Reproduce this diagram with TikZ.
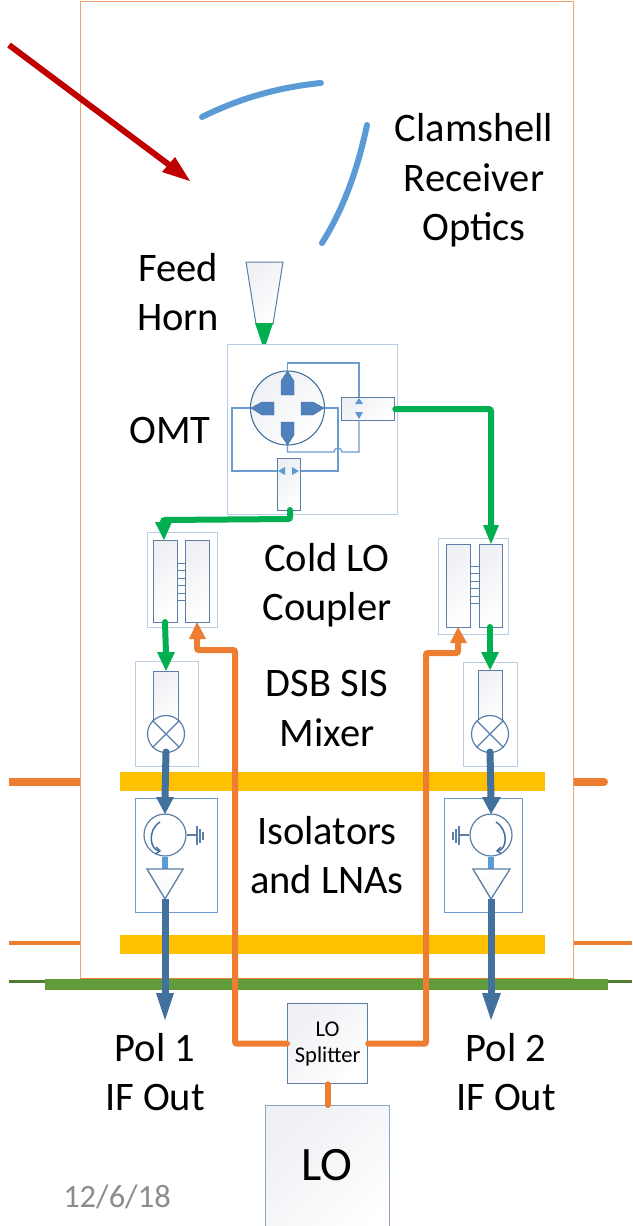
\documentclass[tikz,border=0pt]{standalone}
\usepackage{fontspec}
\setmainfont{Carlito}
\usetikzlibrary{arrows.meta,calc}
\definecolor{rfgreen}{HTML}{00B050}
\definecolor{lored}{HTML}{ED7D31}
\definecolor{ifblue}{HTML}{41719C}
\definecolor{lightblue}{HTML}{5B9BD5}
\definecolor{linkblue}{HTML}{6C9BD2}
\definecolor{edgeblue}{HTML}{5B7FA8}
\definecolor{paleedge}{HTML}{B8CCE4}
\definecolor{barygold}{HTML}{FFC000}
\definecolor{bargreen}{HTML}{629B3C}
\definecolor{darkgreen}{HTML}{507E32}
\definecolor{darkred}{HTML}{C00000}
\definecolor{shade}{HTML}{EEF0F4}
\definecolor{probe}{HTML}{4F81BD}
\tikzset{
 x=1pt,y=-1pt,
 lbl/.style={font=\fontsize{40.5}{49.5}\selectfont,align=center,text=black,inner sep=0pt},
 panel/.style={draw=paleedge,line width=1.3pt,fill=white},
 panelb/.style={draw=linkblue,line width=1.3pt,fill=white},
 part/.style={draw=edgeblue,line width=1.3pt,top color=shade,bottom color=white,shading angle=45},
 wire/.style={draw=linkblue,line width=1.2pt},
 rf/.style={draw=rfgreen,line width=6pt,line cap=round,rounded corners=2pt},
 lo/.style={draw=lored,line width=6pt,line cap=round,rounded corners=2pt},
 ifl/.style={draw=ifblue,line width=7pt,line cap=round},
 tipg/.style={fill=rfgreen},
 tipo/.style={fill=lored},
 tipb/.style={fill=ifblue},
 probeshape/.style={fill=probe,draw=ifblue,line width=.4pt},
 tri/.style={fill=lightblue},
 rung/.style={draw=edgeblue,line width=1pt},
 thinl/.style={draw=lored,line width=4pt},
 thickl/.style={draw=lored,line width=8pt},
}
\begin{document}
\begin{tikzpicture}
\useasboundingbox (0,0) rectangle (632,1226);
\fill[white] (0,0) rectangle (632,1226);
% background lines
\draw[thickl] (9,782) -- (80,782);
\draw[thickl,line cap=round] (574,782) -- (604,782);
\draw[thinl] (9,943) -- (80,943);
\draw[thinl] (574,943) -- (632,943);
\draw[draw=darkgreen,line width=3pt] (9,981.5) -- (632,981.5);
% dewar
\node[draw=lored!70!white,line width=1pt,fill=white,minimum width=493pt,minimum height=977pt,inner sep=0pt,anchor=north west] (dewar) at (80,1) {};
\fill[barygold] (120,772) rectangle (545,791);
\fill[barygold] (120,935) rectangle (545,954);
\fill[bargreen] (45,978.5) rectangle (608,990);
\draw[lored,line width=1pt] (80,978) -- (573,978);
% red beam
\coordinate (beamA) at (9,45);
\coordinate (beamB) at (176,170);
\draw[darkred,line width=6pt] (beamA) -- (beamB);
\fill[darkred] (190,181) -- (162,172) -- (175,157) -- cycle;
% mirrors
\draw[lightblue,line width=6pt,line cap=round] (202,117) .. controls (240,98) and (280,87) .. (321,83);
\draw[lightblue,line width=6pt,line cap=round] (322,243) .. controls (344,208) and (358,168) .. (367,125);
% labels
\node[lbl] (optics) at (474,180.5) {Clamshell\\Receiver\\Optics};
\node[lbl] (feedlbl) at (178,292) {Feed\\Horn};
\node[lbl] (omtlbl) at (170,430) {OMT};
\node[lbl] (couplbl) at (327,585) {Cold LO\\Coupler};
\node[lbl] (mixlbl) at (327,708.5) {DSB SIS\\Mixer};
\node[lbl] (isolbl) at (327,855) {Isolators\\and LNAs};
\node[lbl] (pol1) at (155,1072) {Pol 1\\IF Out};
\node[lbl] (pol2) at (506,1072) {Pol 2\\IF Out};
\node[font=\fontsize{32.5}{38}\selectfont,text=black!45,inner sep=0pt] (date) at (117,1197) {12/6/18};
% horn
\draw[part,line width=1pt] (246,262) -- (283,262) -- (273,324) -- (256,324) -- cycle;
\fill[tipg] (255,323) -- (273,323) -- (265,347) -- (263,347) -- cycle;
\draw[rf,line width=4.5pt] (264,332) -- (264,353);
% OMT
\node[panel,minimum width=170pt,minimum height=170pt,inner sep=0pt,anchor=north west] (omt) at (227,344) {};
\node[circle,draw=ifblue,line width=1.1pt,top color=shade,bottom color=white,shading angle=45,minimum size=74pt,inner sep=0pt] (orth) at (287.5,408) {};
\node[part,minimum width=53pt,minimum height=23pt,inner sep=0pt,anchor=north west] (hybR) at (341,397) {};
\node[part,minimum width=23pt,minimum height=52pt,inner sep=0pt,anchor=north west] (hybB) at (277,458) {};
\draw[wire] (orth.north) -- (287.5,363) -- (359,363) -- (359,397);
\draw[wire] (orth.south) -- (287.5,452) -- (334,452) arc[start angle=180,end angle=360,radius=4] -- (359,452) -- (359,420);
\draw[wire] (orth.west) -- (232,408) -- (232,471) -- (hybB.west |- 0,471);
\draw[wire] (orth.east) -- (338,408) -- (338,471) -- (hybB.east |- 0,471);
\draw[probeshape] (287.5,371) -- (294,381) -- (294,395) -- (281,395) -- (281,381) -- cycle;
\draw[probeshape] (287.5,445) -- (294,435) -- (294,422) -- (281,422) -- (281,435) -- cycle;
\draw[probeshape] (251,408) -- (262,402) -- (274,402) -- (274,415) -- (262,415) -- cycle;
\draw[probeshape] (324,408) -- (313,402) -- (301,402) -- (301,415) -- (313,415) -- cycle;
\fill[tri] (359,398) -- (355,404) -- (363,404) -- cycle;
\fill[tri] (359,419) -- (355,412) -- (363,412) -- cycle;
\fill[tri] (278,471) -- (285,467) -- (285,475) -- cycle;
\fill[tri] (299,471) -- (292,467) -- (292,475) -- cycle;
% couplers
\node[panel,minimum width=70pt,minimum height=95pt,inner sep=0pt,anchor=north west] (cplL) at (147,532) {};
\node[part,minimum width=24pt,minimum height=82pt,inner sep=0pt,anchor=north west] (cplLa) at (153,540) {};
\node[part,minimum width=24pt,minimum height=82pt,inner sep=0pt,anchor=north west] (cplLb) at (185,540) {};
\foreach \y in {563,570,578,585,593,600} \draw[rung] (177,\y) -- (185,\y);
\node[panel,minimum width=70pt,minimum height=96pt,inner sep=0pt,anchor=north west] (cplR) at (438,538) {};
\node[part,minimum width=24pt,minimum height=83pt,inner sep=0pt,anchor=north west] (cplRa) at (446,544) {};
\node[part,minimum width=23pt,minimum height=83pt,inner sep=0pt,anchor=north west] (cplRb) at (479,544) {};
\foreach \y in {566,573,581,588,596,603} \draw[rung] (470,\y) -- (479,\y);
% mixers
\node[panel,minimum width=63pt,minimum height=105pt,inner sep=0pt,anchor=north west] (mixL) at (135,661) {};
\node[part,minimum width=25pt,minimum height=52pt,inner sep=0pt,anchor=north west] (mixLr) at (153,671) {};
\node[panel,minimum width=54pt,minimum height=104pt,inner sep=0pt,anchor=north west] (mixR) at (463,662) {};
\node[part,minimum width=24pt,minimum height=52pt,inner sep=0pt,anchor=north west] (mixRr) at (478,670) {};
\foreach \cx/\nm in {166/sisL,490/sisR}{
 \node[circle,draw=edgeblue,line width=1.2pt,fill=white,minimum size=37pt,inner sep=0pt] (\nm) at (\cx,734) {};
 \draw[edgeblue,line width=1.2pt] (\nm.north west) -- (\nm.south east);
 \draw[edgeblue,line width=1.2pt] (\nm.north east) -- (\nm.south west);
}
% isolator boxes
\node[panelb,minimum width=82pt,minimum height=114pt,inner sep=0pt,anchor=north west] (isoL) at (135,798) {};
\node[panelb,minimum width=78pt,minimum height=114pt,inner sep=0pt,anchor=north west] (isoR) at (444,798) {};
% circulators
\node[circle,draw=edgeblue,line width=1.2pt,fill=white,minimum size=42pt,inner sep=0pt] (circL) at (165,835) {};
\node[circle,draw=edgeblue,line width=1.2pt,fill=white,minimum size=42pt,inner sep=0pt] (circR) at (491,835) {};
\draw[ifblue,line width=1.5pt,-{Straight Barb[length=4pt,width=7pt]}] (160,822) .. controls (147,830) and (150,850) .. (161,851);
\draw[ifblue,line width=1.5pt,-{Straight Barb[length=4pt,width=7pt]}] (496,822) .. controls (509,830) and (507,850) .. (496,851);
\coordinate (gndL) at (197,835);
\coordinate (gndR) at (459,835);
\draw[edgeblue,line width=1.2pt] (circL.east) -- (gndL);
\draw[edgeblue,line width=1.2pt] (circR.west) -- (gndR);
\draw[edgeblue,line width=1.2pt] (197,826) -- (197,845) (200,829) -- (200,843) (203,832) -- (203,840);
\draw[edgeblue,line width=1.2pt] (459,826) -- (459,845) (456,829) -- (456,843) (453,832) -- (453,840);
% amplifiers
\draw[lightblue,line width=6pt] (circL.south) -- (165,869);
\draw[lightblue,line width=6pt] (circR.south) -- (491,869);
\draw[draw=edgeblue,line width=1.3pt,top color=white,bottom color=shade!50!white] (147,869) -- (183,869) -- (165,899) -- cycle;
\draw[draw=edgeblue,line width=1.3pt,top color=white,bottom color=shade!50!white] (473,869) -- (510,869) -- (491,899) -- cycle;
% IF lines
\draw[ifl] (166,752) -- (165,798);
\fill[tipb] (156,797) -- (174,797) -- (165,814) -- cycle;
\draw[ifl] (490,752) -- (491,798);
\fill[tipb] (482,797) -- (501,797) -- (491,814) -- cycle;
\draw[ifl,line cap=butt] (165,899) -- (165,995);
\fill[tipb] (156,993) -- (174,993) -- (165,1020) -- cycle;
\draw[ifl,line cap=butt] (491,899) -- (491,995);
\fill[tipb] (482,993) -- (501,993) -- (491,1020) -- cycle;
% LO parts
\node[part,minimum width=80pt,minimum height=80pt,inner sep=0pt,anchor=north west,font=\fontsize{22.5}{26}\selectfont,align=center,text=black] (split) at (287,1003) {LO\\Splitter};
\node[part,draw=edgeblue!70!white,minimum width=124pt,minimum height=140pt,inner sep=0pt,anchor=north west] (lobox) at (265,1105) {};
\node[font=\fontsize{48}{58}\selectfont,text=black,inner sep=0pt] (lotxt) at (327,1165) {LO};
% LO connectors
\draw[lo] (split.south) -- (lobox.north);
\draw[lo] (split.west) -| (235,650) -- (197,650) -- (197,638);
\fill[tipo] (189,639) -- (206,639) -- (197,622) -- cycle;
\draw[lo] (split.east) -| (426,653) -- (458,653) -- (458,642);
\fill[tipo] (450,643) -- (467,643) -- (458,627) -- cycle;
% RF connectors
\draw[rf] (hybR.east) -| (491,526);
\fill[tipg] (483,525) -- (499,525) -- (491,544) -- cycle;
\draw[rf] (290,510) -- (290,519) -- (163,520) -- (163,524);
\fill[tipg] (155,522) -- (172,522) -- (164,540) -- cycle;
\draw[rf] (165,622) -- (166,654);
\fill[tipg] (157,652) -- (175,652) -- (166,671) -- cycle;
\draw[rf] (490,627) -- (490,654);
\fill[tipg] (481,652) -- (499,652) -- (490,670) -- cycle;
\end{tikzpicture}
\end{document}
